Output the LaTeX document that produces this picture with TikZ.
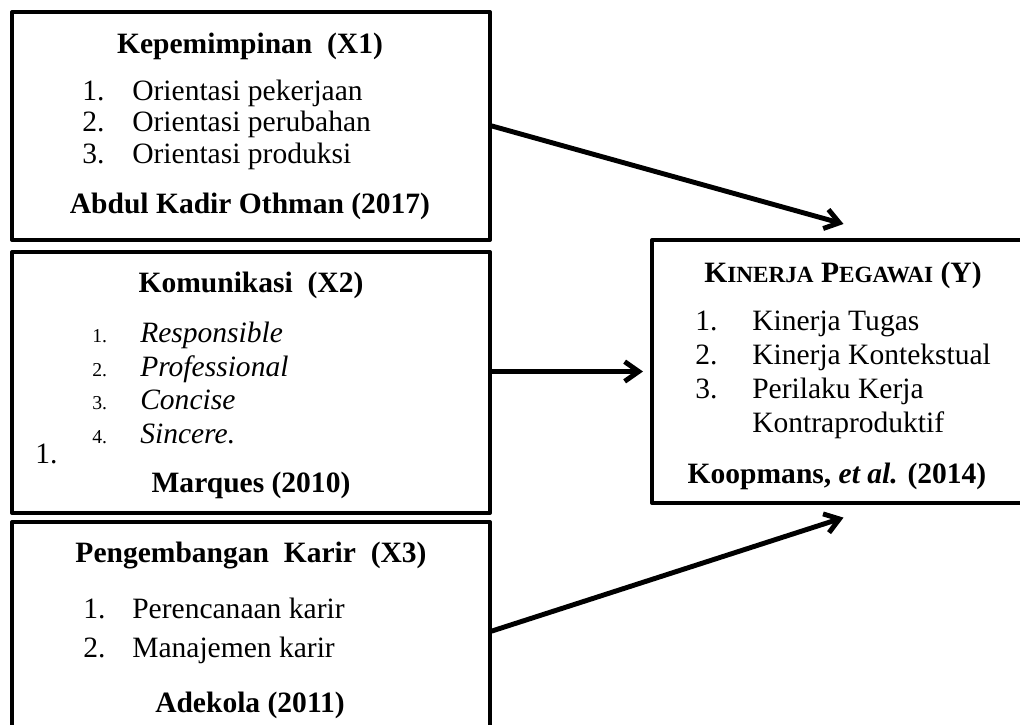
\documentclass[tikz,border=0pt]{standalone}
\usepackage{fontspec}
\setmainfont{Liberation Serif}
\usetikzlibrary{arrows.meta,fit}
\newcommand{\fakesc}[1]{{\fontsize{16.5}{16.5}\selectfont #1}}
\tikzset{
  box/.style={draw, line width=2.8pt, inner sep=0pt, fit={#1}},
  title/.style={anchor=base, font=\fontsize{21}{24}\selectfont\bfseries},
  item/.style={anchor=base west, inner sep=0pt},
  smallnum/.style={anchor=base west, inner sep=0pt, font=\fontsize{14}{16}\selectfont},
  link/.style={->, line width=3.5pt, line cap=round}
}
\begin{document}
\begin{tikzpicture}[x=0.025cm, y=-0.025cm, font=\fontsize{21}{24}\selectfont, line join=round, >={Straight Barb[length=10pt,width=14pt]}]
	\useasboundingbox (0,0) rectangle (1020,724);
	\clip (0,0) rectangle (1020,724);
	% boxes
	\node[box={(12,12) (490,240)}] (x1) {};
	\node[box={(12,252) (490,513)}] (x2) {};
	\node[box={(12,522) (490,740)}] (x3) {};
	\node[box={(652,240) (1035,503)}] (ky) {};
	% X1
	\node[title] (t1) at (250,53) {Kepemimpinan\ \ (X1)};
	\foreach \t [count=\k] in {Orientasi pekerjaan, Orientasi perubahan, Orientasi produksi}{
		\node[item] (n1\k) at (82,{68.5+31.5*\k}) {\k.};
		\node[item] (i1\k) at (132,{68.5+31.5*\k}) {\t};
	}
	\node[title] (s1) at (250,213) {Abdul Kadir Othman (2017)};
	% X2
	\node[title] (t2) at (251,292) {Komunikasi\ \ (X2)};
	\foreach \t [count=\k] in {Responsible, Professional, Concise, Sincere.}{
		\node[smallnum] (n2\k) at (92,{309+33.5*\k}) {\k.};
		\node[item] (i2\k) at (140,{309+33.5*\k}) {\textit{\t}};
	}
	\node[item] (stray) at (35,463) {1.};
	\node[title] (s2) at (251,492) {Marques (2010)};
	% X3
	\node[title] (t3) at (251,562) {Pengembangan\ \ Karir\ \ (X3)};
	\foreach \t [count=\k] in {Perencanaan karir, Manajemen karir}{
		\node[item] (n3\k) at (83,{579+39*\k}) {\k.};
		\node[item] (i3\k) at (132,{579+39*\k}) {\t};
	}
	\node[title] (s3) at (250,712) {Adekola (2011)};
	% Y
	\node[title] (ty) at (843,282) {K\fakesc{INERJA} P\fakesc{EGAWAI} (Y)};
	\foreach \t [count=\k] in {Kinerja Tugas, Kinerja Kontekstual, Perilaku Kerja}{
		\node[item] (ny\k) at (695,{296+34*\k}) {\k.};
		\node[item] (iy\k) at (752,{296+34*\k}) {\t};
	}
	\node[item] (iy4) at (752,432) {Kontraproduktif};
	\node[title] (sy) at (837,483) {Koopmans, \textit{et al.} (2014)};
	% arrows
	\draw[link] (x1.east) -- ([yshift=10pt]ky.north);
	\draw[link, shorten >=5pt] (ky.west -| x2.east) -- (ky.west);
	\draw[link] (x3.east) -- ([yshift=-9pt]ky.south);
\end{tikzpicture}
\end{document}
